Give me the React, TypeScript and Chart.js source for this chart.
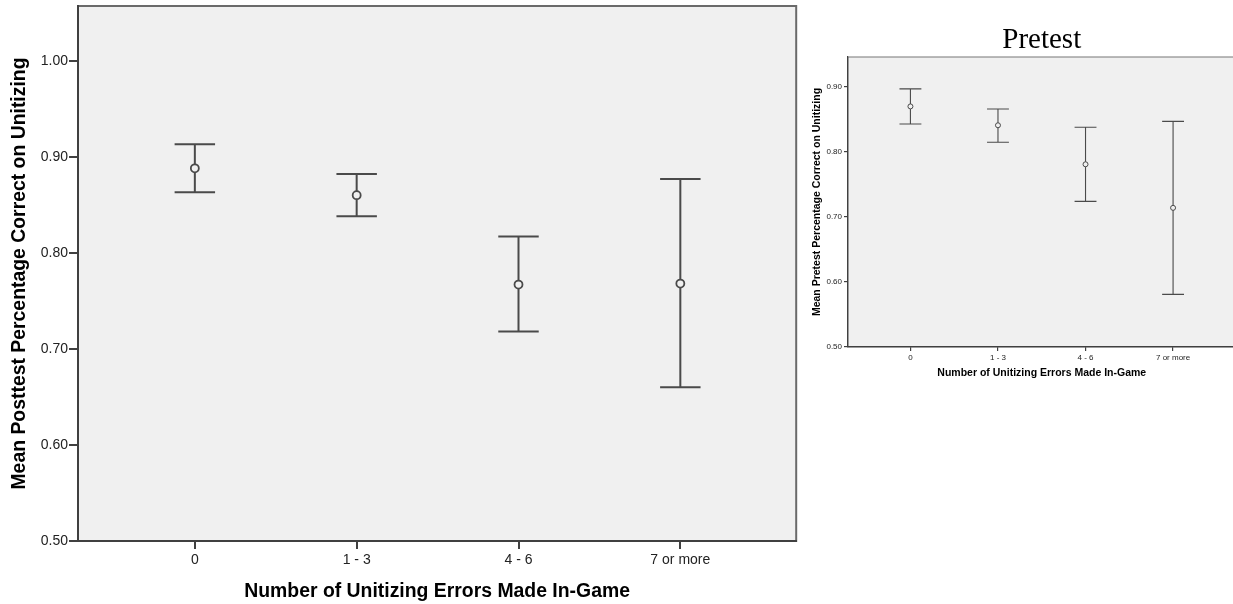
import React, { useEffect, useRef } from "react";
import { Chart, registerables } from "chart.js";

Chart.register(...registerables);

// ---- Data ----
const categories = ["0", "1 - 3", "4 - 6", "7 or more"];
const categoryPositions = [0, 1, 2, 3];

const posttestMean = [0.888, 0.86, 0.767, 0.768];
const posttestLower = [0.863, 0.838, 0.718, 0.66];
const posttestUpper = [0.913, 0.882, 0.817, 0.877];
const posttestYTicks = [0.5, 0.6, 0.7, 0.8, 0.9, 1.0];

const pretestMean = [0.87, 0.841, 0.781, 0.714];
const pretestLower = [0.843, 0.815, 0.724, 0.581];
const pretestUpper = [0.897, 0.866, 0.838, 0.847];
const pretestYTicks = [0.5, 0.6, 0.7, 0.8, 0.9];

const posttestYTitle = "Mean Posttest Percentage Correct on Unitizing";
const pretestYTitle = "Mean Pretest Percentage Correct on Unitizing";
const xTitle = "Number of Unitizing Errors Made In-Game";
const pretestTitle = "Pretest";

const SANS = "'Liberation Sans', Arial, sans-serif";
const SERIF = "'Liberation Serif', 'Times New Roman', serif";

type Spec = {
  left: number;
  top: number;
  width: number;
  height: number;
  padding: { top: number; right: number; left: number; bottom: number };
  yAxisWidth: number;
  xAxisHeight: number;
  xMin: number;
  xMax: number;
  yMin: number;
  yMax: number;
  yTicks: number[];
  mean: number[];
  lower: number[];
  upper: number[];
  yTitle: string;
  title?: string;
  titleSize?: number;
  titlePadTop?: number;
  titlePadBottom?: number;
  tickFont: number;
  axisTitleFont: number;
  yTitlePad: number;
  xTitlePad: number;
  yTickLength: number;
  xTickLength: number;
  yTickPad: number;
  xTickPad: number;
  axisWidth: number;
  boxWidth: number;
  boxColor: string;
  barWidth: number;
  pointRadius: number;
  pointBorder: number;
  capHalf: number;
};

function makeErrorBarPlugin(spec: Spec) {
  return {
    id: "errorBars",
    beforeDatasetsDraw(chart: any) {
      const { ctx } = chart;
      const x = chart.scales.x;
      const y = chart.scales.y;
      ctx.save();
      ctx.strokeStyle = "#4a4a4a";
      ctx.lineWidth = spec.barWidth;
      categoryPositions.forEach((p, i) => {
        const px = x.getPixelForValue(p);
        const cl = x.getPixelForValue(p - spec.capHalf);
        const cr = x.getPixelForValue(p + spec.capHalf);
        const yl = y.getPixelForValue(spec.lower[i]);
        const yu = y.getPixelForValue(spec.upper[i]);
        ctx.beginPath();
        ctx.moveTo(px, yl);
        ctx.lineTo(px, yu);
        ctx.moveTo(cl, yl);
        ctx.lineTo(cr, yl);
        ctx.moveTo(cl, yu);
        ctx.lineTo(cr, yu);
        ctx.stroke();
      });
      ctx.restore();
    },
  };
}

function makeBoxPlugin(spec: Spec) {
  return {
    id: "plotBox",
    beforeDraw(chart: any) {
      const { ctx, chartArea } = chart;
      const { left, top, right, bottom } = chartArea;
      ctx.save();
      ctx.fillStyle = "#f0f0f0";
      ctx.fillRect(left, top, right - left, bottom - top);
      ctx.strokeStyle = spec.boxColor;
      ctx.lineWidth = spec.boxWidth;
      ctx.strokeRect(left, top, right - left, bottom - top);
      ctx.restore();
    },
  };
}

function ErrorBarChart({ spec }: { spec: Spec }) {
  const ref = useRef<HTMLCanvasElement | null>(null);
  useEffect(() => {
    if (!ref.current) return;
    const chart = new Chart(ref.current, {
      type: "scatter",
      data: {
        datasets: [
          {
            data: categoryPositions.map((p, i) => ({ x: p, y: spec.mean[i] })),
            pointStyle: "circle",
            pointRadius: spec.pointRadius,
            pointHoverRadius: spec.pointRadius,
            pointBorderWidth: spec.pointBorder,
            borderColor: "#4a4a4a",
            backgroundColor: "#f0f0f0",
            showLine: false,
          },
        ],
      },
      options: {
        responsive: false,
        animation: false,
        events: [],
        layout: { padding: spec.padding },
        plugins: {
          legend: { display: false },
          tooltip: { enabled: false },
          title: spec.title
            ? {
                display: true,
                text: spec.title,
                fullSize: false,
                color: "#000",
                font: { family: SERIF, size: spec.titleSize, weight: "normal", lineHeight: 1 },
                padding: { top: spec.titlePadTop, bottom: spec.titlePadBottom },
              }
            : { display: false },
        },
        scales: {
          x: {
            type: "linear",
            min: spec.xMin,
            max: spec.xMax,
            afterBuildTicks: (s: any) => {
              s.ticks = categoryPositions.map((v) => ({ value: v }));
            },
            afterFit: (s: any) => {
              s.height = spec.xAxisHeight;
              s.paddingLeft = 0;
              s.paddingRight = 0;
            },
            ticks: {
              autoSkip: false,
              maxRotation: 0,
              padding: spec.xTickPad,
              color: "#222",
              font: { family: SANS, size: spec.tickFont },
              callback: (v: any) => categories[Math.round(Number(v))],
            },
            grid: {
              display: true,
              drawOnChartArea: false,
              drawTicks: true,
              tickLength: spec.xTickLength,
              tickColor: "#404040",
              lineWidth: spec.axisWidth,
            },
            border: { display: true, color: "#404040", width: spec.axisWidth },
            title: {
              display: true,
              text: xTitle,
              color: "#000",
              font: { family: SANS, size: spec.axisTitleFont, weight: "bold" },
              padding: { top: 0, bottom: spec.xTitlePad },
            },
          },
          y: {
            type: "linear",
            min: spec.yMin,
            max: spec.yMax,
            afterBuildTicks: (s: any) => {
              s.ticks = spec.yTicks.map((v) => ({ value: v }));
            },
            afterFit: (s: any) => {
              s.width = spec.yAxisWidth;
              s.paddingTop = 0;
              s.paddingBottom = 0;
            },
            ticks: {
              padding: spec.yTickPad,
              color: "#222",
              font: { family: SANS, size: spec.tickFont },
              callback: (v: any) => Number(v).toFixed(2),
            },
            grid: {
              display: true,
              drawOnChartArea: false,
              drawTicks: true,
              tickLength: spec.yTickLength,
              tickColor: "#404040",
              lineWidth: spec.axisWidth,
            },
            border: { display: true, color: "#404040", width: spec.axisWidth },
            title: {
              display: true,
              text: spec.yTitle,
              color: "#000",
              font: { family: SANS, size: spec.axisTitleFont, weight: "bold" },
              padding: { top: spec.yTitlePad, bottom: 0 },
            },
          },
        },
      },
      plugins: [makeBoxPlugin(spec), makeErrorBarPlugin(spec)],
    } as any);
    return () => chart.destroy();
  }, [spec]);
  return (
    <canvas
      ref={ref}
      width={spec.width}
      height={spec.height}
      style={{
        position: "absolute",
        left: spec.left,
        top: spec.top,
        width: spec.width,
        height: spec.height,
      }}
    />
  );
}

const posttestSpec: Spec = {
  left: 0,
  top: 0,
  width: 802,
  height: 604,
  padding: { top: 6, right: 4, left: 0, bottom: 0 },
  yAxisWidth: 78,
  xAxisHeight: 63,
  xMin: -0.722,
  xMax: 3.716,
  yMin: 0.5,
  yMax: 1.057,
  yTicks: posttestYTicks,
  mean: posttestMean,
  lower: posttestLower,
  upper: posttestUpper,
  yTitle: posttestYTitle,
  tickFont: 14,
  axisTitleFont: 19.4,
  yTitlePad: 8,
  xTitlePad: 1,
  yTickLength: 9,
  xTickLength: 8,
  yTickPad: 1,
  xTickPad: 3,
  axisWidth: 2,
  boxWidth: 2,
  boxColor: "#6a6a6a",
  barWidth: 2,
  pointRadius: 4,
  pointBorder: 1.8,
  capHalf: 0.125,
};

const pretestSpec: Spec = {
  left: 800,
  top: 0,
  width: 439,
  height: 390,
  padding: { top: 0, right: 1, left: 0, bottom: 0 },
  yAxisWidth: 48,
  xAxisHeight: 43,
  xMin: -0.713,
  xMax: 3.713,
  yMin: 0.5,
  yMax: 0.946,
  yTicks: pretestYTicks,
  mean: pretestMean,
  lower: pretestLower,
  upper: pretestUpper,
  yTitle: pretestYTitle,
  title: pretestTitle,
  titleSize: 29,
  titlePadTop: 25.5,
  titlePadBottom: 2.5,
  tickFont: 8,
  axisTitleFont: 10.5,
  yTitlePad: 10.4,
  xTitlePad: 10.4,
  yTickLength: 4,
  xTickLength: 4,
  yTickPad: 2,
  xTickPad: 2,
  axisWidth: 1.2,
  boxWidth: 1,
  boxColor: "#777",
  barWidth: 1.1,
  pointRadius: 2.5,
  pointBorder: 1,
  capHalf: 0.125,
};

export default function App() {
  return (
    <div
      style={{
        position: "fixed",
        left: 0,
        top: 0,
        width: 1233,
        height: 604,
        overflow: "hidden",
        background: "#fff",
      }}
    >
      <ErrorBarChart spec={posttestSpec} />
      <ErrorBarChart spec={pretestSpec} />
    </div>
  );
}
